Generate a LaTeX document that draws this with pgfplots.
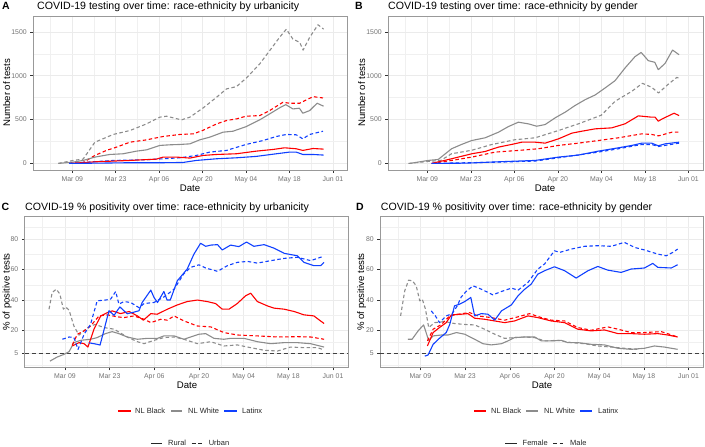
\documentclass[border=0pt]{standalone}
\usepackage{pgfplots}
\pgfplotsset{compat=1.18}
\usepackage{fontspec}
\setmainfont{Liberation Sans}
\definecolor{cR}{RGB}{255,0,0}
\definecolor{cG}{RGB}{140,140,140}
\definecolor{cB}{RGB}{16,64,255}
\pgfplotsset{
 panel/.style={scale only axis, anchor=north west,
   xmin=-3.65,xmax=97.7,
   xtick={9,23,37,51,65,79,93},
   xticklabels={Mar 09,Mar 23,Apr 06,Apr 20,May 04,May 18,Jun 01},
   minor xtick={2,16,30,44,58,72,86},
   grid=both,
   major grid style={black!8,line width=0.5pt},
   minor grid style={black!6,line width=0.3pt},
   tick align=outside, major tick length=2.75pt, minor tick length=0pt,
   xtick pos=left, ytick pos=left,
   tick style={black!80,line width=0.4pt},
   axis line style={black!40,line width=0.5pt},
   ticklabel style={font=\fontsize{6.9}{7.5}\selectfont,text=black!55},
   every axis plot/.append style={line width=1.1pt,line join=round},
   clip=false},
 pA/.style={ymin=-75,ymax=1680,ytick={0,500,1000,1500},yticklabels={0,500,1000,1500},minor ytick={250,750,1250}},
 pC/.style={ymin=-4.2,ymax=94.6,ytick={5,20,40,60,80},yticklabels={5,20,40,60,80},minor ytick={-2.5,12.5,30,50,70,87.5}},
 dsh/.style={dash pattern=on 3.5pt off 2.5pt},
}
\newcommand{\ttl}{\fontsize{10.6}{12}\selectfont}
\newcommand{\lbl}{\fontsize{9.6}{11}\selectfont}
\newcommand{\leg}{\fontsize{7.5}{8.5}\selectfont}
\begin{document}
\begin{tikzpicture}
\useasboundingbox (0pt,0pt) rectangle (705pt,-447pt);
% ---------------- Panel A
\begin{axis}[panel,pA,at={(33pt,-16pt)},width=314.5pt,height=154pt]
\addplot[cG,dsh] coordinates {(4.5,0)(9.3,34)(12.5,49)(16.3,242)(22.2,330)(27.6,375)(32.9,450)(37.2,527)(39.4,538)(44.2,496)(46.9,527)(51.2,633)(55.5,754)(58.7,849)(61.9,875)(65.1,973)(69.4,1133)(72.6,1284)(75.8,1436)(78,1530)(80.1,1417)(82.3,1379)(83.4,1292)(85.5,1436)(88.2,1580)(90,1530)};
\addplot[cR,dsh] coordinates {(12,0)(16.3,91)(20,148)(23.3,186)(27.6,242)(33,269)(38.3,307)(43.7,330)(48,337)(51,375)(55.5,450)(58.7,489)(62,508)(65,538)(69.4,545)(72.6,602)(76.9,697)(79,686)(82.3,686)(84.4,723)(86.6,761)(89.8,746)};
\addplot[cG] coordinates {(4.5,0)(9.3,15)(12.5,34)(16.3,72)(21.1,102)(25.4,110)(29.7,140)(33,155)(37.2,205)(40.4,212)(43.7,216)(46.9,223)(50.1,269)(53.3,299)(57.6,356)(60.8,367)(65.1,420)(69.4,496)(72.6,564)(75.8,633)(77.8,670)(80.1,621)(82.2,629)(83.3,572)(85.5,602)(87.9,686)(90,652)};
\addplot[cB,dsh] coordinates {(8,0)(12.5,11)(22.2,34)(33,42)(43.7,64)(49,91)(53.3,129)(58.7,148)(65,216)(70.5,261)(74.8,307)(78,330)(81.2,326)(83.3,280)(85.5,330)(89.8,367)};
\addplot[cR] coordinates {(8,0)(16.8,19)(27.6,34)(36.1,49)(38.3,72)(42.6,72)(46.9,61)(51.2,91)(55.5,102)(61.9,110)(68.3,140)(73.7,159)(77.4,178)(81.2,167)(83.3,148)(86.6,170)(90,163)};
\addplot[cB] coordinates {(8,0)(16.8,3)(27.6,8)(38.3,8)(44.7,11)(49,34)(55.5,53)(61.9,64)(68.3,80)(74.8,110)(79,129)(81.2,129)(83.3,102)(86.6,102)(90,95)};
\end{axis}
% ---------------- Panel B
\begin{axis}[panel,pA,at={(388pt,-16pt)},width=315pt,height=154pt]
\addplot[cG] coordinates {(3.4,0)(9.3,34)(12.5,45)(16.8,167)(20,216)(23.3,261)(27.6,292)(31.9,356)(35.1,420)(38.3,470)(41.5,451)(44.2,424)(46.9,443)(50.1,519)(53.3,583)(56.5,659)(59.8,727)(63,780)(66.2,860)(69.4,943)(72.6,1087)(75.8,1216)(77.8,1265)(80.1,1171)(82.2,1152)(83.3,1068)(85.5,1140)(87.9,1292)(90,1239)};
\addplot[cG,dsh] coordinates {(2.9,0)(9.3,23)(13.3,34)(16.8,110)(23.3,150)(29.7,215)(37.2,270)(43.7,292)(51.2,375)(57.6,451)(65,550)(69.4,708)(74.8,822)(78.2,913)(81.2,867)(83.4,803)(86.6,905)(89.3,981)(90,970)};
\addplot[cR] coordinates {(10.4,0)(16.8,53)(23.3,110)(27.6,136)(31.9,186)(36.1,216)(39.4,242)(43.7,242)(46.9,231)(51.2,280)(55.5,345)(58.7,367)(63,394)(68.3,405)(72.6,451)(76.9,542)(81.2,527)(82.3,527)(83.3,481)(84.6,508)(88.4,572)(90,545)};
\addplot[cR,dsh] coordinates {(10.4,0)(16.8,34)(23.3,72)(30.8,129)(38.3,148)(44.7,167)(51.2,205)(57.6,231)(64,261)(70.5,292)(74.8,318)(78,337)(81.2,330)(83.4,314)(87.7,356)(90,356)};
\addplot[cB,dsh] coordinates {(10.4,0)(32.2,15)(43.7,27)(51.2,64)(64,129)(70.5,167)(78,216)(81.2,216)(83.3,193)(90,231)};
\addplot[cB] coordinates {(10.4,0)(21.5,3)(32.2,19)(43.7,34)(51.2,72)(57.6,95)(64,140)(70.5,178)(74.8,205)(78,231)(81.2,231)(83.3,201)(85.5,223)(90,242)};
\end{axis}
% ---------------- Panel C
\begin{axis}[panel,pC,at={(24.6pt,-216.7pt)},width=323.4pt,height=150.8pt]
\addplot[black!75,line width=0.5pt,dash pattern=on 4pt off 3pt,forget plot] coordinates {(-3.65,5)(97.7,5)};
\addplot[cG] coordinates {(4.3,0)(6.6,2.7)(8.7,4.4)(10.3,6.2)(11.8,12.1)(13.9,13.6)(17,14.3)(19.1,15.4)(21.7,18)(23.8,19.3)(25.9,18)(28.5,15.8)(31.7,14.3)(34.8,14.9)(38,14.9)(40,16.5)(43.2,16.5)(46.3,14.3)(48.4,15.8)(51,17.6)(53.1,18)(55.7,14.9)(58.8,14.3)(60.9,14.9)(65.1,14.9)(69.3,12.7)(73.5,11.4)(77.7,12.1)(81.8,12.1)(86,11.4)(90.2,9.2)};
\addplot[cG,dsh] coordinates {(4,34)(5,45)(6.3,47.1)(7.4,43.9)(8.5,34)(9.2,35.5)(10.3,33.3)(11.8,23)(13.4,17)(15,20)(17,23)(18.5,24)(21.2,22)(24.4,20.9)(28.5,15.8)(31.7,12.7)(33.8,11.4)(36.9,13.6)(40,15.4)(43.2,15.8)(46.3,14.3)(50.5,11.4)(54.7,12.7)(58.8,9.9)(63,10.6)(67.2,8.8)(71.4,7.1)(75.6,6.6)(79.7,9.2)(83.9,8.8)(88.1,8.8)(89.7,7.7)};
\addplot[cR,dsh] coordinates {(11.3,10.6)(12.9,17.6)(15,19.8)(17,23)(19.7,29.6)(22.3,30.3)(25.4,29)(27.5,28.5)(30.6,29.6)(33.8,27.4)(35.9,25.2)(39,27.4)(41.1,26.8)(43.2,29.6)(46.3,26.3)(50.5,23)(54.7,22.4)(58.8,18.7)(63,17.1)(69.3,16.5)(75.6,15.8)(81.8,16)(86,15.8)(90.2,14.3)};
\addplot[cR] coordinates {(11.3,9.9)(13.4,12.1)(15,11.4)(16.2,9.2)(18.1,20.9)(20.2,29.6)(22.3,31.8)(23.8,32.9)(26.4,31.1)(29.1,32.5)(31.7,29.6)(33.6,26.8)(35.9,31.1)(37.9,30.7)(41.1,34)(44.2,36.8)(47.3,39)(50.5,40)(53.6,39)(56.2,37.7)(58.3,34)(60.4,34)(63,37.7)(65.6,42.8)(67.2,44.5)(69.3,39)(72.4,36.2)(74.5,34.7)(77.7,34)(80.8,32.5)(83.9,30.3)(87,29.6)(90.2,24.6)};
\addplot[cB,dsh] coordinates {(8.2,14.3)(10.3,15.8)(11.8,15.4)(13.1,7.7)(15,17.6)(17,24)(19.1,39.5)(21.7,40)(23.3,40.6)(24.9,45.6)(25.9,37.3)(27.5,39)(29.6,38.4)(32.2,35)(33.8,37.7)(36.9,38.4)(40,42)(43.2,47.1)(46.3,57.4)(48.4,61.4)(51,63.1)(53.1,61)(56.8,58.8)(59.9,62.5)(63,64.7)(66.2,65.3)(69.3,64.2)(73.5,65.8)(77.7,67.3)(81.8,68)(86,65.8)(89.1,68)(89.7,68.4)};
\addplot[cB] coordinates {(16.5,12)(19.1,11)(20,10.5)(22.8,33)(24.4,30)(26.2,35.5)(28.5,31)(30.5,32)(32.2,33)(33.2,38.4)(35.9,46.5)(36.9,41.7)(38,38.4)(40,45.6)(41,40)(42,40)(44.2,52.6)(47.3,60.3)(49.4,70)(51.5,77.2)(53.1,75.2)(54.7,76)(56.8,76.3)(58.3,72.8)(60.9,76)(63.5,75)(65.9,78)(68.2,75.2)(71.4,76.3)(74.5,74)(77.7,70.6)(81.8,69)(83.9,64.7)(87,62.5)(89.1,62.5)(90.2,64.7)};
\end{axis}
% ---------------- Panel D
\begin{axis}[panel,pC,at={(380pt,-216.7pt)},width=323.5pt,height=150.8pt]
\addplot[black!75,line width=0.5pt,dash pattern=on 4pt off 3pt,forget plot] coordinates {(-3.65,5)(97.7,5)};
\addplot[cG] coordinates {(5.1,14.3)(6.4,14.3)(8.3,19.8)(10,23.7)(11.6,13.6)(13,16.5)(15.6,17.1)(17.7,17.1)(20.3,18.7)(22.9,17.6)(26,14.3)(28.6,11.4)(31.2,10.6)(34.4,11.4)(36.4,13.2)(38.5,15.4)(41.7,15.8)(44.8,15.8)(46.9,13.2)(50,13.2)(53.1,13.6)(55.2,12.1)(58.3,12.1)(62.5,11)(66.7,10.6)(70.9,8.4)(75,7.7)(79.2,8.4)(82.3,9.9)(85.4,9.2)(89.6,7.7)};
\addplot[cG,dsh] coordinates {(2.8,29.6)(4.1,46)(5.3,53)(6.5,52.6)(7.7,49.3)(8.8,39.5)(9.6,40.6)(10.6,34)(11.6,22)(13.5,25.2)(16.6,25.9)(19.7,24.6)(22.9,24)(26,23.7)(29.1,20.9)(32.3,17.6)(35.4,14.9)(38.5,15.4)(41.7,15.8)(44.8,15.4)(47.9,13.2)(52.1,13.6)(56.3,12.1)(60.4,11.4)(64.6,9.9)(68.8,9.2)(72.9,8.4)(77,7.7)};
\addplot[cR] coordinates {(11.2,9.9)(13,18.7)(15,22)(17.1,25.2)(18.7,30.3)(21.8,30.7)(23.9,31.1)(26,28.1)(29.1,27.4)(32.3,26.3)(35.4,25.2)(38.5,26.3)(42.7,29.6)(45.8,28.5)(50,26.3)(54.2,25.2)(58.3,20.9)(62.5,19.8)(66.7,20.4)(70.9,18)(75,18)(79.2,17.6)(83.4,18)(86.5,17.1)(89.6,15.8)};
\addplot[cR,dsh] coordinates {(11.2,13.2)(13,20.9)(15.6,24)(18.2,29.6)(20.8,30.7)(24.4,31.8)(27,29.6)(31.2,28.5)(35.4,26.8)(39.6,29)(43.2,31.1)(46.9,28.5)(50,26.8)(54.2,26.3)(58.3,22)(62.5,20.2)(67.7,22.4)(70.9,20.9)(75,18.7)(79.2,18.7)(84.5,19.3)(89.6,15.8)};
\addplot[cB] coordinates {(10.4,3.3)(11.4,4)(13,11)(15,15)(17.1,18.7)(18.2,24)(19.7,36.2)(21.3,37.3)(22.9,39)(24.8,41.7)(26,29.6)(28.1,31.1)(30.2,30.7)(32.3,26.8)(34.4,32.9)(37.5,36.8)(39.6,42.8)(41.7,47.1)(43.7,50.4)(45.8,57)(47.9,59.2)(51,61.8)(54.2,59.2)(57.8,54.4)(61.5,59.2)(64.6,62)(67.7,59.6)(71.9,58.1)(75,60.3)(79.2,61)(81.8,64)(83.4,61.4)(87.6,61)(89.6,63.1)};
\addplot[cB,dsh] coordinates {(12.4,32.9)(13.7,29.6)(15,25.2)(17.1,29.6)(18.9,31)(20.5,36)(21.8,42)(23.5,46)(25.5,49.3)(28.1,47.1)(31.7,43.4)(34.4,45.6)(37.5,47.8)(39.6,46.5)(42.7,51.5)(45.8,60.3)(47.9,63.6)(51,72.3)(52.6,71.2)(56.3,73.4)(60.4,75.2)(64.6,75.6)(68.8,75.2)(72.9,77.8)(76.1,74.5)(79.2,72.8)(83.4,70.1)(86,69)(88.1,71.2)(89.6,73.4)};
\end{axis}
% ---------------- Titles and labels
\node[anchor=base,font=\fontsize{10.5}{12}\selectfont\bfseries] at (6pt,-9.6pt) {A};
\node[anchor=base,font=\fontsize{10.5}{12}\selectfont\bfseries] at (359pt,-9.6pt) {B};
\node[anchor=base,font=\fontsize{10.5}{12}\selectfont\bfseries] at (5.5pt,-210.3pt) {C};
\node[anchor=base,font=\fontsize{10.5}{12}\selectfont\bfseries] at (360pt,-210.3pt) {D};
\node[anchor=base west,inner sep=0pt,font=\ttl] at (37pt,-9.6pt) {COVID-19 testing over time: race-ethnicity by urbanicity};
\node[anchor=base west,inner sep=0pt,font=\ttl] at (388pt,-9.6pt) {COVID-19 testing over time: race-ethnicity by gender};
\node[anchor=base west,inner sep=0pt,font=\ttl] at (25pt,-210.3pt) {COVID-19 \% positivity over time: race-ethnicity by urbanicity};
\node[anchor=base west,inner sep=0pt,font=\ttl] at (380.7pt,-210.3pt) {COVID-19 \% positivity over time: race-ethnicity by gender};
\node[anchor=base,inner sep=0pt,font=\lbl] at (190pt,-191.5pt) {Date};
\node[anchor=base,inner sep=0pt,font=\lbl] at (545pt,-191.5pt) {Date};
\node[anchor=base,inner sep=0pt,font=\lbl] at (187pt,-388.5pt) {Date};
\node[anchor=base,inner sep=0pt,font=\lbl] at (542pt,-388.5pt) {Date};
\node[anchor=base,rotate=90,inner sep=0pt,font=\lbl] at (10pt,-93pt) {Number of tests};
\node[anchor=base,rotate=90,inner sep=0pt,font=\lbl] at (365pt,-93pt) {Number of tests};
\node[anchor=base,rotate=90,inner sep=0pt,font=\lbl] at (9.5pt,-292pt) {\% of positive tests};
\node[anchor=base,rotate=90,inner sep=0pt,font=\lbl] at (364pt,-292pt) {\% of positive tests};
% ---------------- Legends
\begin{scope}[every node/.style={anchor=west,inner sep=0pt,font=\leg,text=black!85}]
\draw[cR,line width=1.1pt] (118pt,-411pt) -- (130.6pt,-411pt); \node at (135pt,-411pt) {NL Black};
\draw[cG,line width=1.1pt] (171pt,-411pt) -- (182pt,-411pt); \node at (188pt,-411pt) {NL White};
\draw[cB,line width=1.1pt] (224pt,-411pt) -- (236.5pt,-411pt); \node at (242pt,-411pt) {Latinx};
\draw[black!85,line width=1.1pt] (151pt,-443.3pt) -- (162pt,-443.3pt); \node at (168pt,-443.3pt) {Rural};
\draw[black!85,line width=1.1pt,dash pattern=on 4pt off 2.5pt] (191.5pt,-443.3pt) -- (203pt,-443.3pt); \node at (208.6pt,-443.3pt) {Urban};
\draw[cR,line width=1.1pt] (474pt,-411pt) -- (485.6pt,-411pt); \node at (491pt,-411pt) {NL Black};
\draw[cG,line width=1.1pt] (526pt,-411pt) -- (538pt,-411pt); \node at (544pt,-411pt) {NL White};
\draw[cB,line width=1.1pt] (580pt,-411pt) -- (592pt,-411pt); \node at (598pt,-411pt) {Latinx};
\draw[black!85,line width=1.1pt] (505pt,-443.3pt) -- (517pt,-443.3pt); \node at (522.5pt,-443.3pt) {Female};
\draw[black!85,line width=1.1pt,dash pattern=on 4pt off 2.5pt] (553pt,-443.3pt) -- (563pt,-443.3pt); \node at (570pt,-443.3pt) {Male};
\end{scope}
\end{tikzpicture}
\end{document}
